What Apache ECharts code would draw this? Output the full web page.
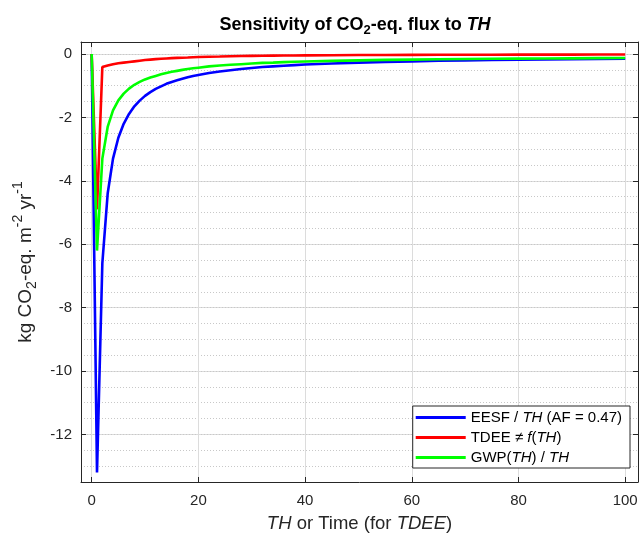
<!DOCTYPE html>
<html>
<head>
<meta charset="utf-8">
<script src="https://cdn.jsdelivr.net/npm/echarts@6/dist/echarts.min.js"></script>
<style>
html,body{margin:0;padding:0;background:#fff;}
#chart{width:641px;height:534px;}
</style>
</head>
<body>
<div id="chart"></div>
<script>
// x values (TH or time, years)
const xValues = [0,1,2,3,4,5,6,7,8,9,10,11,12,13,14,15,16,17,18,19,20,22,24,26,28,30,32,34,36,38,40,45,50,55,60,65,70,75,80,85,90,95,100];
// EESF / TH (AF = 0.47)
const eesf = [0,-13.2,-6.6,-4.4,-3.3,-2.64,-2.2,-1.89,-1.65,-1.47,-1.32,-1.2,-1.1,-1.02,-0.94,-0.88,-0.83,-0.78,-0.73,-0.69,-0.66,-0.6,-0.55,-0.51,-0.47,-0.44,-0.41,-0.39,-0.37,-0.35,-0.33,-0.3,-0.27,-0.25,-0.23,-0.21,-0.2,-0.19,-0.18,-0.17,-0.16,-0.155,-0.15];
// TDEE != f(TH)
const tdee = [0,-4.9,-0.41,-0.36,-0.32,-0.29,-0.27,-0.25,-0.23,-0.21,-0.19,-0.175,-0.16,-0.15,-0.14,-0.13,-0.12,-0.115,-0.11,-0.1,-0.095,-0.085,-0.078,-0.07,-0.064,-0.058,-0.054,-0.05,-0.047,-0.044,-0.041,-0.036,-0.032,-0.029,-0.026,-0.024,-0.022,-0.02,-0.019,-0.018,-0.017,-0.016,-0.015];
// GWP(TH) / TH
const gwp = [0,-6.2,-3.3,-2.3,-1.78,-1.46,-1.25,-1.09,-0.97,-0.88,-0.8,-0.74,-0.69,-0.64,-0.6,-0.56,-0.53,-0.5,-0.47,-0.45,-0.43,-0.39,-0.36,-0.34,-0.32,-0.3,-0.28,-0.27,-0.255,-0.245,-0.235,-0.215,-0.2,-0.185,-0.175,-0.165,-0.155,-0.15,-0.145,-0.14,-0.135,-0.13,-0.125];

const seriesNames = ['EESF / TH (AF = 0.47)', 'TDEE \u2260 f(TH)', 'GWP(TH) / TH'];
const legendRich = {
  'EESF / TH (AF = 0.47)': '{n|EESF / }{i|TH}{n| (AF = 0.47)}',
  'TDEE \u2260 f(TH)': '{n|TDEE \u2260 }{i|f}{n|(}{i|TH}{n|)}',
  'GWP(TH) / TH': '{n|GWP(}{i|TH}{n|) / }{i|TH}'
};

const pairs = ys => xValues.map((x, i) => [x, ys[i]]);

const FONT = '"Liberation Sans", Arial, Helvetica, sans-serif';
const AX = '#262626';
const chart = echarts.init(document.getElementById('chart'), null, {renderer: 'canvas'});

const xMin = -2, xMax = 102.4, yMin = -13.5, yMax = 0.38;

const option = {
  backgroundColor: '#ffffff',
  animation: false,
  textStyle: {fontFamily: FONT},
  title: {
    text: '{b|Sensitivity of CO}{bs|2}{b|-eq. flux to }{bi|TH}',
    left: 350, top: 8, textAlign: 'center',
    textStyle: {
      rich: {
        b: {fontFamily: FONT, fontWeight: 'bold', fontSize: 18, color: '#000', lineHeight: 24, verticalAlign: 'middle'},
        bs: {fontFamily: FONT, fontWeight: 'bold', fontSize: 13, color: '#000', lineHeight: 24, verticalAlign: 'bottom', padding: [7,0,0,0]},
        bi: {fontFamily: FONT, fontWeight: 'bold', fontStyle: 'italic', fontSize: 18, color: '#000', lineHeight: 24, verticalAlign: 'middle'}
      }
    }
  },
  grid: {left: 81, right: 3, top: 42, bottom: 52, containLabel: false, outerBoundsMode: 'none'},
  legend: {
    orient: 'vertical',
    right: 11, bottom: 66,
    data: seriesNames,
    icon: 'rect',
    itemWidth: 50, itemHeight: 3,
    itemGap: 5,
    padding: [4, 8, 3, 3],
    backgroundColor: '#ffffff',
    borderColor: AX, borderWidth: 1, borderRadius: 0,
    formatter: name => legendRich[name],
    textStyle: {
      fontSize: 15,
      rich: {
        n: {fontFamily: FONT, fontSize: 15, color: '#000'},
        i: {fontFamily: FONT, fontSize: 15, fontStyle: 'italic', color: '#000'}
      }
    }
  },
  xAxis: [{
    type: 'value', min: xMin, max: xMax, splitNumber: 5,
    position: 'bottom',
    axisLine: {show: true, onZero: false, lineStyle: {color: AX, width: 1}},
    axisTick: {show: true, inside: true, length: 5, lineStyle: {color: AX}},
    axisLabel: {show: true, showMinLabel: false, showMaxLabel: false, color: AX, fontSize: 15, fontFamily: FONT, margin: 11},
    splitLine: {show: true, lineStyle: {color: '#dcdcdc', width: 1}},
    name: '{i|TH}{n| or Time (for }{i|TDEE}{n|)}',
    nameLocation: 'middle', nameGap: 32,
    nameTextStyle: {
      rich: {
        n: {fontFamily: FONT, fontSize: 18.5, color: AX},
        i: {fontFamily: FONT, fontSize: 18.5, fontStyle: 'italic', color: AX}
      }
    }
  }, {
    type: 'value', min: xMin, max: xMax, splitNumber: 5,
    position: 'top',
    axisLine: {show: true, onZero: false, lineStyle: {color: AX, width: 1}},
    axisTick: {show: true, inside: true, length: 5, lineStyle: {color: AX}},
    axisLabel: {show: false},
    splitLine: {show: false}
  }],
  yAxis: [{
    type: 'value', min: yMin, max: yMax, splitNumber: 7,
    position: 'left',
    axisLine: {show: true, onZero: false, lineStyle: {color: AX, width: 1}},
    axisTick: {show: true, inside: true, length: 5, lineStyle: {color: AX}},
    axisLabel: {show: true, showMinLabel: false, showMaxLabel: false, color: AX, fontSize: 15, fontFamily: FONT, margin: 9},
    splitLine: {show: true, lineStyle: {color: '#dcdcdc', width: 1}},
    name: '{n|kg CO}{sub|2}{n|-eq. m}{sup|-2}{n| yr}{sup|-1}',
    nameLocation: 'middle', nameGap: 34, nameRotate: 90,
    nameTextStyle: {
      rich: {
        n: {fontFamily: FONT, fontSize: 19, color: AX, lineHeight: 28, verticalAlign: 'middle'},
        sub: {fontFamily: FONT, fontSize: 14, color: AX, lineHeight: 28, verticalAlign: 'bottom'},
        sup: {fontFamily: FONT, fontSize: 14, color: AX, lineHeight: 28, verticalAlign: 'top'}
      }
    }
  }, {
    type: 'value', min: yMin, max: yMax, splitNumber: 7,
    position: 'right',
    axisLine: {show: true, onZero: false, lineStyle: {color: AX, width: 1}},
    axisTick: {show: true, inside: true, length: 5, lineStyle: {color: AX}},
    axisLabel: {show: false},
    splitLine: {show: false}
  }, {
    type: 'value', min: yMin, max: yMax, interval: 0.5,
    position: 'left',
    axisLine: {show: false},
    axisTick: {show: false},
    axisLabel: {show: false},
    splitLine: {show: true, lineStyle: {color: '#c8c8c8', width: 1, type: [1, 2]}},
    z: 0
  }],
  series: [
    {name: seriesNames[0], type: 'line', data: pairs(eesf), showSymbol: false, symbol: 'none', lineStyle: {color: '#0000ff', width: 2.6}, itemStyle: {color: '#0000ff'}, z: 3},
    {name: seriesNames[1], type: 'line', data: pairs(tdee), showSymbol: false, symbol: 'none', lineStyle: {color: '#ff0000', width: 2.6}, itemStyle: {color: '#ff0000'}, z: 4},
    {name: seriesNames[2], type: 'line', data: pairs(gwp), showSymbol: false, symbol: 'none', lineStyle: {color: '#00ff00', width: 2.6}, itemStyle: {color: '#00ff00'}, z: 5}
  ]
};
chart.setOption(option);
</script>
</body>
</html>
